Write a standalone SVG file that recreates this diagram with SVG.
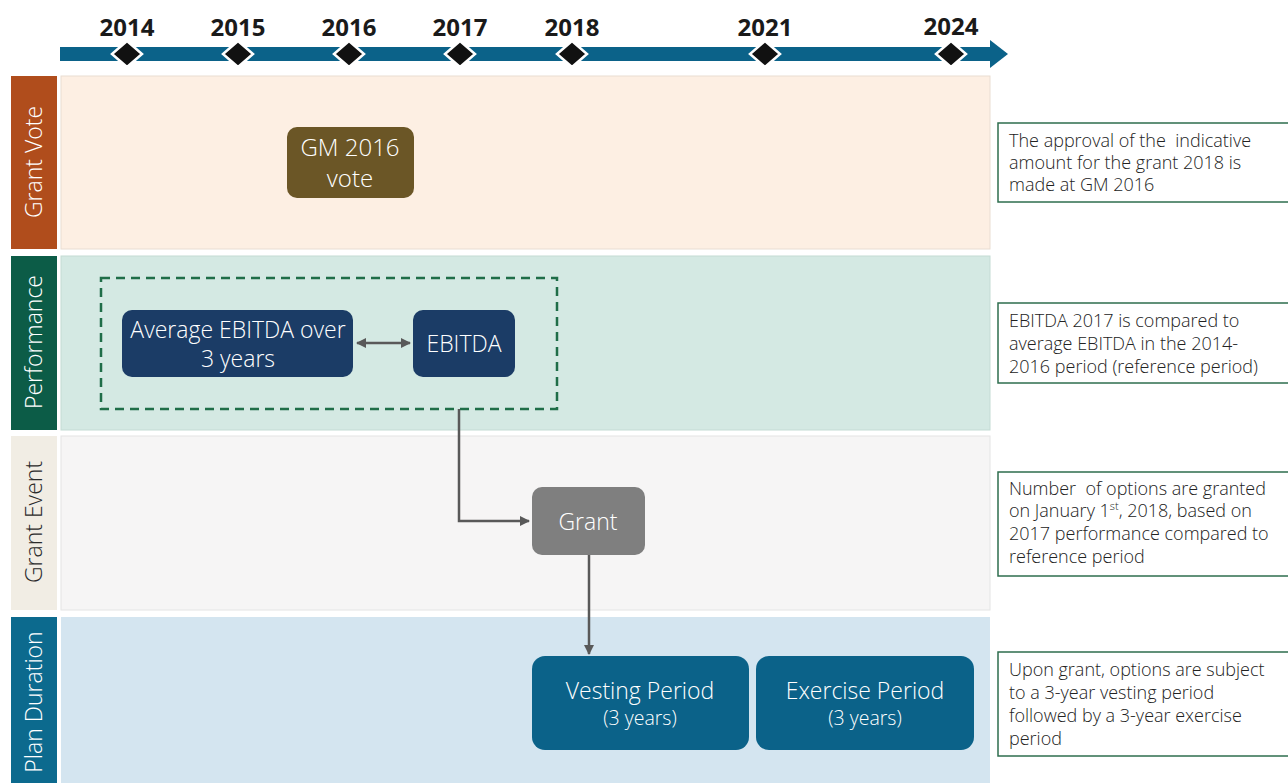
<svg xmlns="http://www.w3.org/2000/svg" width="1288" height="783" viewBox="0 0 1288 783">
<style>
.yr{font-family:"Open Sans","Liberation Sans",sans-serif;font-weight:bold;font-size:24px;fill:#1a1a1a;text-anchor:middle}
.dia{fill:#111;stroke:#fff;stroke-width:2.5}
.lab{font-family:"Open Sans","Liberation Sans",sans-serif;font-weight:300;font-size:23px;fill:#fff;text-anchor:middle}
.nt{font-family:"Open Sans","Liberation Sans",sans-serif;font-weight:300;font-size:23px;fill:#fff;text-anchor:middle}
.ns{font-family:"Open Sans","Liberation Sans",sans-serif;font-weight:300;font-size:19.5px;fill:#fff;text-anchor:middle}
.note{fill:#fff;stroke:#2e6e4e;stroke-width:1.5}
.nx{font-family:"Open Sans","Liberation Sans",sans-serif;font-weight:300;font-size:18px;fill:#222}
.con{fill:none;stroke:#595959;stroke-width:2.5}
</style>
<defs>
<marker id="ah" viewBox="0 0 10 10" refX="9" refY="5" markerWidth="4" markerHeight="4" orient="auto-start-reverse" markerUnits="strokeWidth">
<path d="M0,0 L10,5 L0,10 z" fill="#595959"/>
</marker>
</defs>
<rect width="1288" height="783" fill="#fff"/>
<g id="timeline">
<rect x="60" y="47" width="932" height="14" fill="#0b6289"/>
<path d="M990,40 L1008,54 L990,68 z" fill="#0b6289"/>
<path class="dia" d="M127,41 L142,54 L127,67 L112,54 z"/>
<path class="dia" d="M238,41 L253,54 L238,67 L223,54 z"/>
<path class="dia" d="M349,41 L364,54 L349,67 L334,54 z"/>
<path class="dia" d="M460,41 L475,54 L460,67 L445,54 z"/>
<path class="dia" d="M572,41 L587,54 L572,67 L557,54 z"/>
<path class="dia" d="M765,41 L780,54 L765,67 L750,54 z"/>
<path class="dia" d="M951,41 L966,54 L951,67 L936,54 z"/>
<text class="yr" x="127" y="36">2014</text>
<text class="yr" x="238" y="36">2015</text>
<text class="yr" x="349" y="36">2016</text>
<text class="yr" x="460" y="36">2017</text>
<text class="yr" x="572" y="36">2018</text>
<text class="yr" x="765" y="36">2021</text>
<text class="yr" x="951" y="35">2024</text>
</g>
<g id="lane-grant-vote">
<rect x="11" y="76" width="46" height="173" fill="#b04d1c"/>
<rect x="61" y="76" width="929" height="173" fill="#fdefe3" stroke="#e9ddd2" stroke-width="1"/>
<text class="lab" transform="translate(42,162) rotate(-90)">Grant Vote</text>
</g>
<g id="lane-performance">
<rect x="11" y="256" width="46" height="174" fill="#0c5c47"/>
<rect x="61" y="256" width="929" height="174" fill="#d4e9e3" stroke="#c4dbd4" stroke-width="1"/>
<text class="lab" transform="translate(42,342) rotate(-90)">Performance</text>
</g>
<g id="lane-grant-event">
<rect x="11" y="436" width="46" height="174" fill="#f1ede4"/>
<rect x="61" y="436" width="929" height="174" fill="#f6f5f5" stroke="#e4e4e4" stroke-width="1"/>
<text class="lab" style="fill:#2a2a2a" transform="translate(42,522) rotate(-90)">Grant Event</text>
</g>
<g id="lane-plan-duration">
<rect x="11" y="617" width="46" height="166" fill="#0c6a8e"/>
<rect x="61" y="617" width="929" height="166" fill="#d4e5f0"/>
<text class="lab" transform="translate(42,702) rotate(-90)">Plan Duration</text>
</g>
<g id="perf-group">
<rect x="101" y="278" width="456" height="131" fill="none" stroke="#1f6e48" stroke-width="2.5" stroke-dasharray="9,6"/>
</g>
<g id="connectors">
<line class="con" x1="357" y1="343" x2="410" y2="343" marker-start="url(#ah)" marker-end="url(#ah)"/>
<path class="con" d="M459,409 V521 H529" marker-end="url(#ah)"/>
<path class="con" d="M589,555 V654" marker-end="url(#ah)"/>
</g>
<g id="node-gm2016">
<rect x="287" y="127" width="127" height="71" rx="10" fill="#6b5626"/>
<text class="nt" style="font-size:24px" x="350" y="156">GM 2016</text>
<text class="nt" style="font-size:24px" x="350" y="187">vote</text>
</g>
<g id="node-avg-ebitda">
<rect x="122" y="310" width="231" height="67" rx="10" fill="#1b3c66"/>
<text class="nt" x="238" y="338">Average EBITDA over</text>
<text class="nt" x="238" y="367">3 years</text>
</g>
<g id="node-ebitda">
<rect x="413" y="310" width="102" height="67" rx="10" fill="#1b3c66"/>
<text class="nt" x="464" y="352">EBITDA</text>
</g>
<g id="node-grant">
<rect x="532" y="487" width="113" height="68" rx="10" fill="#7f7f7f"/>
<text class="nt" x="588" y="530">Grant</text>
</g>
<g id="node-vesting">
<rect x="532" y="656" width="217" height="94" rx="13" fill="#0b6289"/>
<text class="nt" x="640" y="699">Vesting Period</text>
<text class="ns" x="640" y="725">(3 years)</text>
</g>
<g id="node-exercise">
<rect x="756" y="656" width="218" height="94" rx="13" fill="#0b6289"/>
<text class="nt" x="865" y="699">Exercise Period</text>
<text class="ns" x="865" y="725">(3 years)</text>
</g>
<g id="note-1">
<rect class="note" x="998" y="123" width="296" height="79"/>
<text class="nx" x="1009" y="147" xml:space="preserve">The approval of the  indicative</text>
<text class="nx" x="1009" y="169">amount for the grant 2018 is</text>
<text class="nx" x="1009" y="191">made at GM 2016</text>
</g>
<g id="note-2">
<rect class="note" x="998" y="303" width="296" height="80"/>
<text class="nx" x="1009" y="327">EBITDA 2017 is compared to</text>
<text class="nx" x="1009" y="350">average EBITDA in the 2014-</text>
<text class="nx" x="1009" y="373">2016 period (reference period)</text>
</g>
<g id="note-3">
<rect class="note" x="998" y="472" width="296" height="104"/>
<text class="nx" x="1009" y="495" xml:space="preserve">Number  of options are granted</text>
<text class="nx" x="1009" y="517">on January 1<tspan font-size="11" dy="-7">st</tspan><tspan dy="7">, 2018, based on</tspan></text>
<text class="nx" x="1009" y="540">2017 performance compared to</text>
<text class="nx" x="1009" y="563">reference period</text>
</g>
<g id="note-4">
<rect class="note" x="998" y="652" width="296" height="104"/>
<text class="nx" x="1009" y="676">Upon grant, options are subject</text>
<text class="nx" x="1009" y="699">to a 3-year vesting period</text>
<text class="nx" x="1009" y="722">followed by a 3-year exercise</text>
<text class="nx" x="1009" y="745">period</text>
</g>
</svg>
